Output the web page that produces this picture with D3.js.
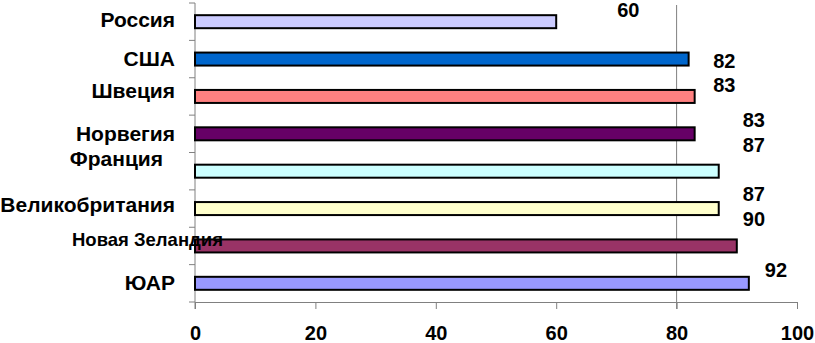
<!DOCTYPE html>
<html>
<head>
<meta charset="utf-8">
<script src="https://cdn.jsdelivr.net/npm/d3@7"></script>
<style>
  body { margin: 0; background: #fff; }
  text { font-family: "Liberation Sans", Arial, sans-serif; font-weight: bold; fill: #000; }
</style>
</head>
<body>
<div id="chart"></div>
<script>
// Country scores, bar chart (top to bottom)
const countries = ["Россия", "США", "Швеция", "Норвегия", "Франция", "Великобритания", "Новая Зеландия", "ЮАР"];
const scores = [60, 82, 83, 83, 87, 87, 90, 92];
const barColors = ["#ccccff", "#0066cc", "#ff8080", "#660066", "#ccffff", "#ffffcc", "#993366", "#9999ff"];
const xTicks = [0, 20, 40, 60, 80, 100];

// the original has its labels nudged around a bit, keep that look
const nameNudge = [[0, 5.5], [0, 6.5], [0, 1.5], [0, 7.5], [-12, -5], [0, 3.5], [48, 0.5], [0, 6.5]];
const valueNudge = [[61, -5], [24.5, 8.5], [18.5, -4.5], [48, -6.5], [24, -19], [24, -7.5], [6, -20], [16, -6.5]];

const width = 815, height = 343;

const svg = d3.select("#chart")
  .append("svg")
  .attr("width", width)
  .attr("height", height);

const x = d3.scaleLinear()
  .domain([0, 100])
  .range([195, 797]);

const y = d3.scaleBand()
  .domain(countries)
  .range([3, 302])
  .paddingInner(0.652)
  .paddingOuter(0.326);

const data = countries.map((c, i) => ({ name: c, value: scores[i], color: barColors[i], i: i }));

// vertical line at 80
svg.append("line")
  .attr("x1", x(80)).attr("x2", x(80))
  .attr("y1", y.range()[0] + 2).attr("y2", y.range()[1] + 7)
  .attr("stroke", "#808080");

// left axis with ticks between categories
svg.append("line")
  .attr("x1", x(0)).attr("x2", x(0))
  .attr("y1", y.range()[0]).attr("y2", y.range()[1] + 7)
  .attr("stroke", "#808080");

svg.append("g")
  .selectAll("line")
  .data(d3.range(countries.length + 1))
  .join("line")
  .attr("x1", x(0) - 6).attr("x2", x(0))
  .attr("y1", i => y.range()[0] + i * y.step())
  .attr("y2", i => y.range()[0] + i * y.step())
  .attr("stroke", "#808080");

// bottom axis
const xAxis = svg.append("g")
  .attr("transform", `translate(0,${y.range()[1]})`)
  .call(d3.axisBottom(x).tickValues(xTicks).tickSize(7).tickPadding(17));

xAxis.select(".domain").attr("stroke", "#808080");
xAxis.selectAll(".tick line").attr("stroke", "#808080");
xAxis.selectAll(".tick text")
  .attr("font-size", 20)
  .attr("font-family", "Liberation Sans, Arial, sans-serif")
  .attr("font-weight", "bold")
  .attr("fill", "#000");

// bars
svg.append("g")
  .selectAll("rect")
  .data(data)
  .join("rect")
  .attr("x", x(0))
  .attr("y", d => y(d.name))
  .attr("width", d => x(d.value) - x(0))
  .attr("height", y.bandwidth())
  .attr("fill", d => d.color)
  .attr("stroke", "#000")
  .attr("stroke-width", 2);

// country names
svg.append("g")
  .selectAll("text")
  .data(data)
  .join("text")
  .attr("x", d => x(0) - 20 + nameNudge[d.i][0])
  .attr("y", d => y(d.name) + y.bandwidth() / 2 + nameNudge[d.i][1])
  .attr("text-anchor", "end")
  .attr("font-size", d => d.name === "Новая Зеландия" ? 18.5 : 21)
  .text(d => d.name);

// value labels
svg.append("g")
  .selectAll("text")
  .data(data)
  .join("text")
  .attr("x", d => x(d.value) + valueNudge[d.i][0])
  .attr("y", d => y(d.name) + y.bandwidth() / 2 + valueNudge[d.i][1])
  .attr("font-size", 20)
  .text(d => d.value);
</script>
</body>
</html>
